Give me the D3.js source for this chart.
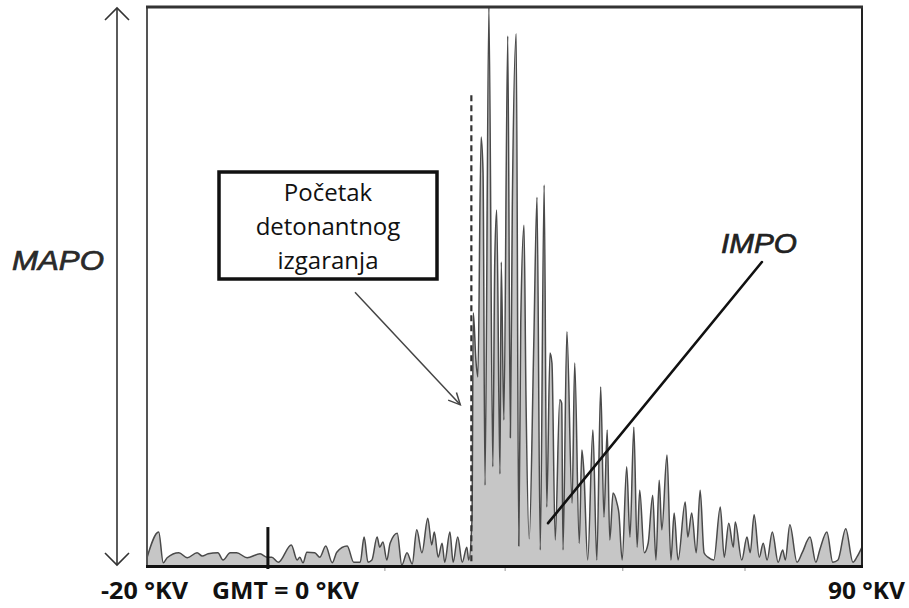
<!DOCTYPE html>
<html>
<head>
<meta charset="utf-8">
<script src="https://cdn.jsdelivr.net/npm/d3@7"></script>
<style>
  html, body { margin: 0; padding: 0; background: #fff; }
  svg { display: block; }
</style>
</head>
<body>
<svg id="chart" width="909" height="608"></svg>
<script>
// ---- data (crank angle in °KV, signal amplitude in % of max) ----
const angle = [-20.0,-18.2,-17.5,-16.9,-15.1,-13.8,-12.3,-11.5,-10.6,-9.1,-8.3,-7.2,-6.2,-4.6,-2.6,-1.5,
  -0.8,0.2,2.2,3.1,3.5,4.0,4.6,5.8,6.6,7.5,8.5,9.2,10.8,11.8,12.8,13.4,14.0,14.6,15.4,15.8,16.3,16.9,17.4,18.5,19.2,20.0,20.8,21.5,22.3,23.2,23.8,24.2,24.8,25.4,25.8,26.6,27.1,27.8,28.5,29.2,29.5,
  30.0,30.2,30.6,30.9,31.4,31.7,32.0,32.6,33.2,33.5,33.8,34.3,34.5,34.9,35.5,35.9,36.2,36.8,37.2,37.5,38.0,38.3,38.8,39.5,
  40.0,40.5,41.1,41.5,42.0,42.3,42.8,43.5,43.8,44.0,44.6,45.4,45.8,46.5,46.9,47.2,47.8,48.6,49.2,49.8,50.3,50.8,
  51.2,51.7,52.3,52.6,53.1,53.8,54.3,54.9,55.4,55.8,56.5,57.1,57.8,58.3,58.8,59.2,60.0,60.6,61.1,61.7,62.8,63.2,63.8,64.5,65.1,65.7,66.3,67.2,68.2,68.8,69.5,70.2,
  70.5,71.5,72.3,72.8,73.4,74.2,74.8,75.4,76.2,77.1,77.8,78.2,78.9,80.0,80.8,82.0,82.9,83.5,84.6,85.5,86.3,87.5,88.6,89.2,90.0];
const amplitude = [1.3,5.9,0.4,1.3,2.2,1.3,2.2,1.6,2.0,2.2,0.9,2.2,2.2,1.3,2.0,1.4,
  1.4,0.5,3.6,0.9,1.4,0.4,2.3,2.2,1.4,3.4,0.4,2.3,3.4,0.5,0.5,5.0,0.5,0.9,5.0,3.2,4.1,0.9,3.9,5.7,0,2.2,0.2,6.3,2.2,8.4,3.6,5.9,1.4,3.9,0.5,5.9,0.5,5.0,0.5,3.2,0.9,
  8.1,45.2,36.7,33.7,76.7,70.4,14.3,100,17.6,54.3,63.6,16.3,54.3,26.0,94.8,22.8,64.0,95.2,3.4,43.4,60.9,30.5,4.7,39.4,
  65.9,2.7,68.1,10.4,38.0,36.2,4.5,29.6,29.0,2.7,41.8,11.1,36.2,3.9,20.6,17.0,0.9,24.2,0.9,31.9,8.6,24.2,
  4.5,12.9,11.1,9.3,0.9,17.6,5.0,24.7,3.2,13.4,2.2,3.9,12.5,0.9,15.2,6.3,19.7,0.9,9.3,0.9,11.3,5.0,9.3,2.2,13.4,2.2,1.4,0.9,10.4,1.4,7.5,3.2,
  7.7,0.9,5.0,2.2,9.0,1.4,3.9,0.9,5.9,0.5,2.7,0.9,7.2,0.5,2.2,5.0,0.5,2.7,5.9,0.5,0.9,6.5,0.5,1.4,3.2];

const xLabels = ["-20 °KV", "GMT = 0 °KV", "90 °KV"];
const boxLines = ["Početak", "detonantnog", "izgaranja"];
const yLabel = "MAPO";
const lineLabel = "IMPO";
const gmtAngle = -1.4;        // position of the GMT marker on the drawn axis
const knockAngle = 29.9;      // onset of knocking combustion (dashed line)
const minorTicks = [16.6, 35.1, 53.2, 72.0];

(function () {
  const svg = d3.select("#chart");
  const pL = 147, pR = 862, pT = 7, pB = 565;

  const x = d3.scaleLinear().domain([-20, 90]).range([pL, pR]);
  const y = d3.scaleLinear().domain([0, 100]).range([pB, pT]);

  const data = angle.map((a, i) => ({a, v: amplitude[i]}));

  const area = d3.area().x(d => x(d.a)).y0(y(0)).y1(d => y(d.v)).curve(d3.curveMonotoneX);
  const line = d3.line().x(d => x(d.a)).y(d => y(d.v)).curve(d3.curveMonotoneX);

  svg.append("path").datum(data).attr("d", area).attr("fill", "#c6c6c6");
  svg.append("path").datum(data).attr("d", line)
    .attr("fill", "none").attr("stroke", "#4a4a4a").attr("stroke-width", 1.5)
    .attr("stroke-linejoin", "round");

  // frame
  svg.append("line").attr("x1", pL).attr("x2", pL).attr("y1", pT).attr("y2", pB + 2)
    .attr("stroke", "#555").attr("stroke-width", 2);
  svg.append("line").attr("x1", pR).attr("x2", pR).attr("y1", pT).attr("y2", pB + 2)
    .attr("stroke", "#222").attr("stroke-width", 2);
  svg.append("line").attr("x1", pL - 1).attr("x2", pR + 1).attr("y1", pT).attr("y2", pT)
    .attr("stroke", "#333").attr("stroke-width", 3);
  svg.append("line").attr("x1", pL - 1).attr("x2", pR + 1).attr("y1", pB + 1.5).attr("y2", pB + 1.5)
    .attr("stroke", "#111").attr("stroke-width", 3);

  svg.selectAll(".mtick").data(minorTicks).enter().append("line")
    .attr("x1", d => x(d)).attr("x2", d => x(d))
    .attr("y1", pB + 3).attr("y2", pB + 6)
    .attr("stroke", "#999").attr("stroke-width", 1);

  // GMT marker
  svg.append("line").attr("x1", x(gmtAngle)).attr("x2", x(gmtAngle))
    .attr("y1", y(6.8)).attr("y2", pB + 4)
    .attr("stroke", "#111").attr("stroke-width", 3);

  // dashed knock-onset line
  svg.append("line").attr("x1", x(knockAngle)).attr("x2", x(knockAngle))
    .attr("y1", y(84.2)).attr("y2", pB)
    .attr("stroke", "#333").attr("stroke-width", 2.2).attr("stroke-dasharray", "6,4");

  // MAPO double arrow
  const ax = 117;
  svg.append("line").attr("x1", ax).attr("x2", ax).attr("y1", pT + 1).attr("y2", pB)
    .attr("stroke", "#333").attr("stroke-width", 1.6);
  svg.append("path").attr("d", `M${ax - 12},${pT + 13} L${ax},${pT + 1} L${ax + 12},${pT + 13}`)
    .attr("fill", "none").attr("stroke", "#333").attr("stroke-width", 1.6);
  svg.append("path").attr("d", `M${ax - 12},${pB - 12} L${ax},${pB} L${ax + 12},${pB - 12}`)
    .attr("fill", "none").attr("stroke", "#333").attr("stroke-width", 1.6);

  svg.append("text").attr("x", 12).attr("y", 270).text(yLabel)
    .attr("font-family", "Liberation Sans, Arial, sans-serif").attr("font-style", "italic")
    .attr("font-size", 28).attr("fill", "#2a2a2a").attr("stroke", "#2a2a2a").attr("stroke-width", 0.7)
    .attr("textLength", 92).attr("lengthAdjust", "spacingAndGlyphs");

  // annotation box
  svg.append("rect").attr("x", 219).attr("y", 172).attr("width", 218).attr("height", 107)
    .attr("fill", "#fff").attr("stroke", "#111").attr("stroke-width", 3.5);
  svg.selectAll(".boxt").data(boxLines).enter().append("text")
    .attr("x", 328).attr("y", (d, i) => 201 + i * 34)
    .attr("text-anchor", "middle").text(d => d)
    .attr("font-family", "Open Sans, sans-serif").attr("font-size", 24).attr("fill", "#111");

  // arrow from box to dashed line
  const a0 = [x(12.0), y(48.9)], a1 = [x(28.2), y(28.7)];
  svg.append("line").attr("x1", a0[0]).attr("y1", a0[1]).attr("x2", a1[0]).attr("y2", a1[1])
    .attr("stroke", "#444").attr("stroke-width", 1.5);
  const ang = Math.atan2(a1[1] - a0[1], a1[0] - a0[0]);
  const L = 13, sp = 0.45;
  const p1 = [a1[0] - L * Math.cos(ang - sp), a1[1] - L * Math.sin(ang - sp)];
  const p2 = [a1[0] - L * Math.cos(ang + sp), a1[1] - L * Math.sin(ang + sp)];
  svg.append("path").attr("d", `M${p1[0]},${p1[1]} L${a1[0]},${a1[1]} L${p2[0]},${p2[1]}`)
    .attr("fill", "none").attr("stroke", "#444").attr("stroke-width", 1.5);

  // IMPO line & label
  svg.append("line").attr("x1", x(41.7)).attr("y1", y(7.5)).attr("x2", x(74.6)).attr("y2", y(54.3))
    .attr("stroke", "#111").attr("stroke-width", 2.6).attr("stroke-linecap", "round");
  svg.append("text").attr("x", 721).attr("y", 253).text(lineLabel)
    .attr("font-family", "Liberation Sans, Arial, sans-serif").attr("font-style", "italic")
    .attr("font-size", 28).attr("fill", "#222").attr("stroke", "#222").attr("stroke-width", 0.7)
    .attr("textLength", 76).attr("lengthAdjust", "spacingAndGlyphs");

  // x labels
  const labelPos = [{x: 101, w: 87}, {x: 212, w: 147}, {x: 828, w: 77}];
  svg.selectAll(".xl").data(xLabels).enter().append("text")
    .attr("x", (d, i) => labelPos[i].x).attr("y", 599).text(d => d)
    .attr("font-family", "Open Sans, sans-serif").attr("font-weight", "bold")
    .attr("font-size", 23).attr("fill", "#111")
    .attr("textLength", (d, i) => labelPos[i].w).attr("lengthAdjust", "spacingAndGlyphs");
})();
</script>
</body>
</html>
